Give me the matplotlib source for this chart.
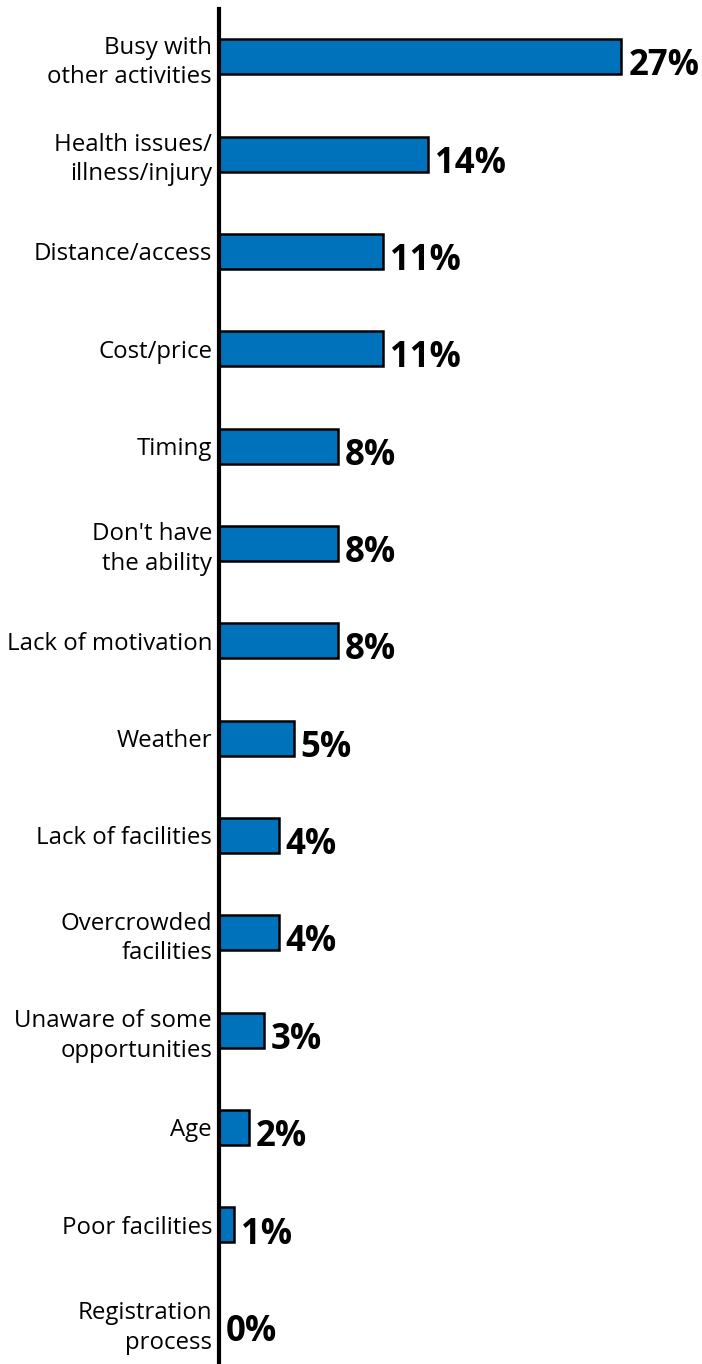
import matplotlib
matplotlib.use("Agg")
import matplotlib.pyplot as plt

categories = [
    "Busy with\nother activities",
    "Health issues/\nillness/injury",
    "Distance/access",
    "Cost/price",
    "Timing",
    "Don't have\nthe ability",
    "Lack of motivation",
    "Weather",
    "Lack of facilities",
    "Overcrowded\nfacilities",
    "Unaware of some\nopportunities",
    "Age",
    "Poor facilities",
    "Registration\nprocess",
]
values = [27, 14, 11, 11, 8, 8, 8, 5, 4, 4, 3, 2, 1, 0]
value_labels = [f"{v}%" for v in values]

BAR_COLOR = "#0072BC"
W, H, DPI = 702, 1364, 100

fig = plt.figure(figsize=(W / DPI, H / DPI), dpi=DPI)
fig.patch.set_facecolor("white")

left_px, top_px, right_px = 219, 9, 700
ax = fig.add_axes([left_px / W, 0, (right_px - left_px) / W, (H - top_px) / H])

n = len(categories)
ypos = list(range(n))
ax.barh(ypos, values, height=0.36, color=BAR_COLOR, edgecolor="black",
        linewidth=1.8, zorder=2)

ax.set_xlim(0, (right_px - left_px) / 14.9)
ax.set_ylim(n - 1 + 0.43, -0.49)

for spine in ("top", "right", "bottom"):
    ax.spines[spine].set_visible(False)
ax.spines["left"].set_linewidth(3.0)
ax.spines["left"].set_color("black")
ax.spines["left"].set_zorder(3)
ax.xaxis.set_visible(False)

ax.set_yticks(ypos)
ax.set_yticklabels(categories, fontsize=17.3, family="Open Sans",
                   linespacing=1.3, ha="right", multialignment="right")
ax.tick_params(axis="y", length=0, pad=5)

for y, v, lab in zip(ypos, values, value_labels):
    ax.annotate(lab, xy=(v, y), xytext=(5, -7), textcoords="offset points",
                ha="left", va="center", fontsize=25, fontweight="bold",
                family="Open Sans", color="black")

fig.savefig("out.png", dpi=DPI)
